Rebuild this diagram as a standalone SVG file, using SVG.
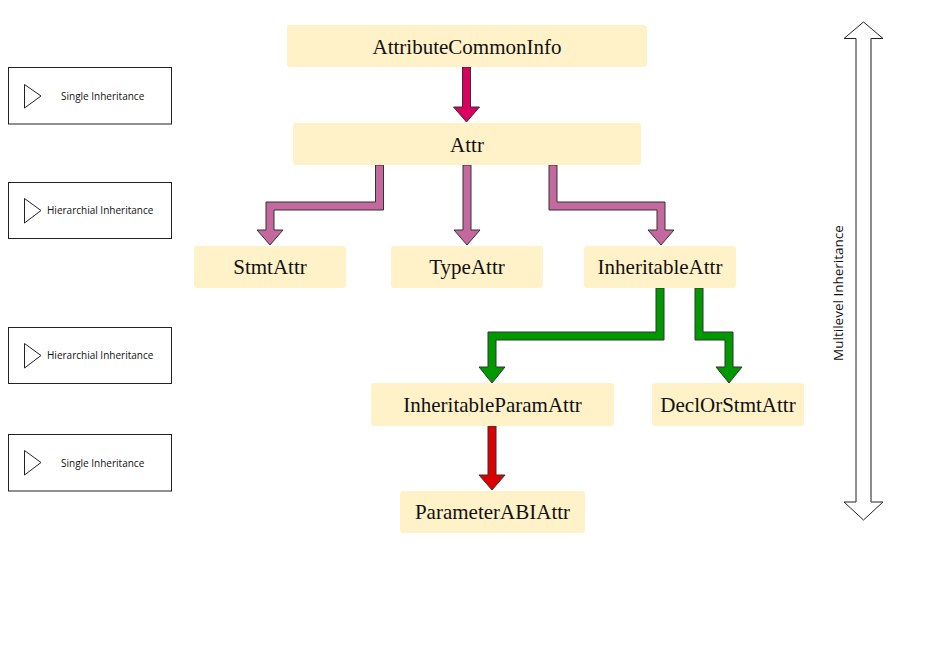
<svg xmlns="http://www.w3.org/2000/svg" width="931" height="658" viewBox="0 0 931 658">
<style>
.node rect{fill:#fff2c8;stroke:none}
.node text{font-family:"Liberation Serif","Times New Roman",serif;font-size:21px;fill:#111;text-anchor:middle}
.legend rect{fill:#fff;stroke:#222;stroke-width:1}
.legend polygon{fill:none;stroke:#222;stroke-width:1}
.legend text{font-family:"Open Sans","Liberation Sans",sans-serif;font-size:10px;fill:#111}
.conn polygon{stroke:#333;stroke-width:1;stroke-linejoin:miter}
.c-top{fill:#da0060}
.c-mauve{fill:#c3699e}
.c-green{fill:#009900}
.c-red{fill:#dd0000}
</style>
<rect width="931" height="658" fill="#fff"/>
<g id="legend">
<g id="legend-single-1" class="legend">
<rect x="8.5" y="67.5" width="163" height="56.5"/>
<polygon points="24.5,84.5 41,96 24.5,108"/>
<text x="61" y="99.5">Single Inheritance</text>
</g>
<g id="legend-hier-1" class="legend">
<rect x="8.5" y="182.5" width="163" height="56"/>
<polygon points="24.5,198.5 41,210.5 24.5,223"/>
<text x="47" y="214">Hierarchial Inheritance</text>
</g>
<g id="legend-hier-2" class="legend">
<rect x="8.5" y="327.5" width="163" height="56"/>
<polygon points="24.5,343.5 41,355.5 24.5,368"/>
<text x="47" y="359">Hierarchial Inheritance</text>
</g>
<g id="legend-single-2" class="legend">
<rect x="8.5" y="434.5" width="163" height="56.5"/>
<polygon points="24.5,450.5 41,462.5 24.5,475"/>
<text x="61" y="466.5">Single Inheritance</text>
</g>
</g>
<g id="multilevel">
<polygon points="863.5,22 883,38.5 871,38.5 871,502 883,502 863.5,520 844,502 856,502 856,38.5 844,38.5" fill="#fff" stroke="#222" stroke-width="1"/>
<line x1="871" y1="38.5" x2="871" y2="502" stroke="#888" stroke-width="1"/>
<text x="843" y="293" transform="rotate(-90 843 293)" text-anchor="middle" font-family="'Open Sans','Liberation Sans',sans-serif" font-size="13.5" fill="#111">Multilevel Inheritance</text>
</g>
<g id="connectors" class="conn">
<polygon class="c-top" points="462.5,67 470.5,67 470.5,107 479.5,107 466.5,122 453.5,107 462.5,107"/>
<polygon class="c-mauve" points="375.5,165 383.5,165 383.5,210 274,210 274,230 283,230 270,245 257,230 266,230 266,202 375.5,202"/>
<polygon class="c-mauve" points="463,165 471,165 471,230 480,230 467,245 454,230 463,230"/>
<polygon class="c-mauve" points="549,165 557,165 557,202 665,202 665,230 674,230 661,245 648,230 657,230 657,210 549,210"/>
<polygon class="c-green" points="656,288 664,288 664,340 496,340 496,367 505,367 492,383 479,367 488,367 488,332 656,332"/>
<polygon class="c-green" points="695,288 703,288 703,332 733,332 733,367 742,367 729,383 716,367 725,367 725,340 695,340"/>
<polygon class="c-red" points="488,426 496,426 496,475 505,475 492,490 479,475 488,475"/>
</g>
<g id="AttributeCommonInfo" class="node"><rect x="287" y="25" width="360" height="42" rx="3"/><text x="467" y="53.5">AttributeCommonInfo</text></g>
<g id="Attr" class="node"><rect x="293" y="123" width="348" height="42" rx="3"/><text x="467" y="151.5">Attr</text></g>
<g id="StmtAttr" class="node"><rect x="194" y="246" width="152" height="42" rx="3"/><text x="270" y="274">StmtAttr</text></g>
<g id="TypeAttr" class="node"><rect x="391" y="246" width="152" height="42" rx="3"/><text x="467" y="274">TypeAttr</text></g>
<g id="InheritableAttr" class="node"><rect x="584" y="246" width="152" height="42" rx="3"/><text x="660" y="274">InheritableAttr</text></g>
<g id="InheritableParamAttr" class="node"><rect x="371" y="383" width="243" height="43" rx="3"/><text x="492.5" y="411.5">InheritableParamAttr</text></g>
<g id="DeclOrStmtAttr" class="node"><rect x="652" y="383" width="152" height="43" rx="3"/><text x="728" y="411.5">DeclOrStmtAttr</text></g>
<g id="ParameterABIAttr" class="node"><rect x="400" y="491" width="185" height="42" rx="3"/><text x="492.5" y="519">ParameterABIAttr</text></g>
</svg>
